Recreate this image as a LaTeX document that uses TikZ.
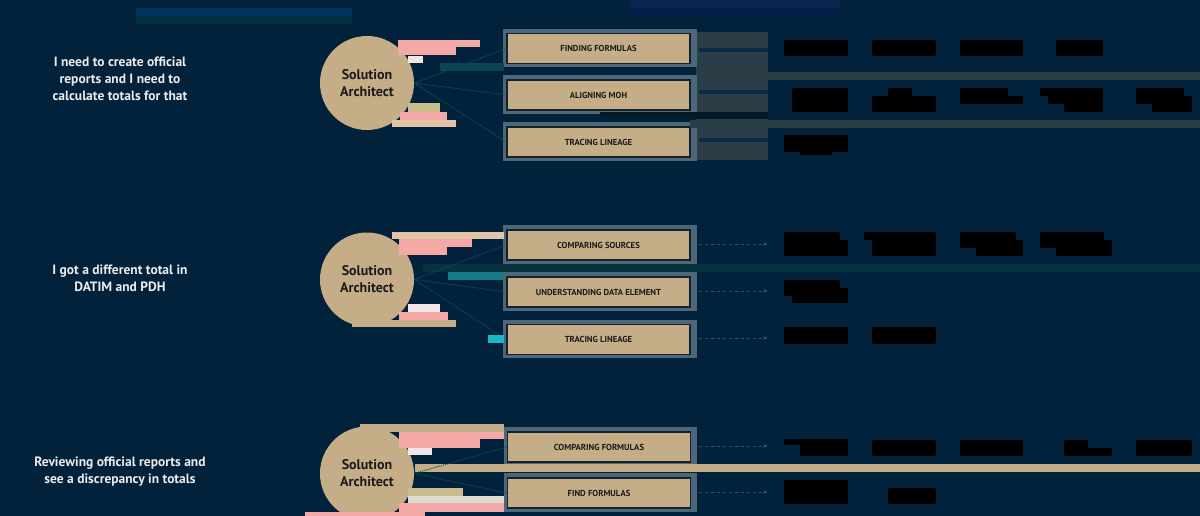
\documentclass[tikz,border=0pt]{standalone}
\usepackage{fontspec}
\setmainfont{PT Sans}
\usetikzlibrary{arrows.meta,calc}
\definecolor{bg}{HTML}{02213A}
\definecolor{tan}{HTML}{C4AD87}
\definecolor{ink}{HTML}{1A1A1A}
\definecolor{txtw}{HTML}{ECECEC}
\definecolor{boxline}{HTML}{15222C}
\definecolor{framec}{HTML}{4C667A}
\definecolor{panelc}{HTML}{2B3E47}
\definecolor{linkc}{HTML}{0F5262}
\definecolor{arrc}{HTML}{1E5B73}
\definecolor{arrdark}{HTML}{0A2A46}
\definecolor{pinkc}{HTML}{F4A9A6}
\definecolor{peachc}{HTML}{E2C5A8}
\definecolor{whitec}{HTML}{F1E6E6}
\definecolor{khakic}{HTML}{C9BC8E}
\definecolor{greyc}{HTML}{DCDCD0}
\definecolor{tealband}{HTML}{07333F}
\definecolor{tealbright}{HTML}{197A88}
\definecolor{cyanc}{HTML}{18B8C8}
\definecolor{tealblock}{HTML}{0C4452}
\definecolor{hdrblue}{HTML}{00315F}
\definecolor{hdrteal}{HTML}{022F3F}
\definecolor{hdrblueb}{HTML}{0A2452}
\definecolor{hdrbluec}{HTML}{04204A}
\definecolor{darkband}{HTML}{041A29}
\pgfdeclarelayer{back}
\pgfdeclarelayer{mid}
\pgfsetlayers{back,mid,main}
\begin{document}
\begin{tikzpicture}[x=1pt,y=-1pt,
  lefttext/.style={text=txtw, align=center, inner sep=0pt, font=\fontsize{13.5}{17}\selectfont\bfseries},
  sa/.style={circle, fill=tan, minimum size=94pt, inner sep=0pt, align=center, text=ink, font=\fontsize{14}{17}\selectfont\bfseries},
  task/.style={rectangle, fill=tan, draw=boxline, line width=1.5pt, minimum width=183pt, minimum height=30pt, inner sep=0pt, text=ink, font=\fontsize{8.7}{10}\selectfont\bfseries},
  link/.style={draw=linkc, line width=1pt, densely dotted},
  outdark/.style={draw=arrdark, line width=4pt},
  outthin/.style={draw=arrc, line width=1pt, dashed, -{Stealth[length=5pt,width=4pt]}},
  item/.style={fill=black},
]
\useasboundingbox (0,0) rectangle (1200,516);
\begin{pgfonlayer}{back}
\fill[bg] (0,0) rectangle (1200,516);
\end{pgfonlayer}

% header bars
\fill[hdrblue] (136,8) rectangle (352,16);
\fill[hdrteal] (136,16) rectangle (352,24);
\fill[hdrblueb] (630,0) rectangle (840,8);
\fill[hdrbluec] (630,8) rectangle (840,15);

% left texts
\node[lefttext] (q1) at (120,79) {I need to create official\\reports and I need to\\calculate totals for that};
\node[lefttext] (q2) at (120,278.5) {I got a different total in\\DATIM and PDH};
\node[lefttext] (q3) at (120,472) {Reviewing official reports and\\see a discrepancy in totals};

% solution architects
\node[sa] (sa1) at (367,83) {Solution\\Architect};
\node[sa] (sa2) at (367,279.5) {Solution\\Architect};
\node[sa] (sa3) at (367,473.5) {Solution\\Architect};

% tasks
\node[task] (t11) at (598.5,48.5) {FINDING FORMULAS};
\node[task] (t12) at (598.5,95) {ALIGNING MOH};
\node[task] (t13) at (598.5,142) {TRACING LINEAGE};
\node[task] (t21) at (598.5,245) {COMPARING SOURCES};
\node[task] (t22) at (598.5,292) {UNDERSTANDING DATA ELEMENT};
\node[task] (t23) at (598.5,339.5) {TRACING LINEAGE};
\node[task] (t31) at (599,447) {COMPARING FORMULAS};
\node[task] (t32) at (599,493) {FIND FORMULAS};

% frames behind tasks and grey panel
\begin{pgfonlayer}{mid}
\fill[panelc] (696,32) rectangle (768,160);
\foreach \t in {t11,t12,t13,t21,t22,t23,t31,t32}{
  \fill[framec] ($(\t.north west)+(-3,-4)$) rectangle ($(\t.south east)+(6,3)$);
}
\fill[darkband] (600,112) rectangle (768,119);
\end{pgfonlayer}

% bands
\fill[panelc] (768,72) rectangle (1200,80);
\fill[panelc] (690,120) rectangle (1200,128);
\fill[tealband] (423,264) rectangle (1200,272);
\fill[tan] (415,464) rectangle (1200,472);

% connectors circle -> tasks
\foreach \s/\t in {sa1/t11,sa1/t12,sa1/t13,sa2/t21,sa2/t22,sa2/t23,sa3/t31,sa3/t32}{
  \draw[link] (\s.east) -- (\t.west);
}

% end coordinates of outgoing arrows
\coordinate (e11) at (768,50);
\coordinate (e12) at (768,92);
\coordinate (e13) at (768,140);
\coordinate (e21) at (768,244);
\coordinate (e22) at (768,291);
\coordinate (e23) at (768,338);
\coordinate (e31) at (768,446);
\coordinate (e32) at (768,492);
\draw[outdark] ([xshift=8pt]t11.east |- e11) -- (e11);
\draw[outdark] ([xshift=8pt]t12.east |- e12) -- (e12);
\draw[outdark] ([xshift=8pt]t13.east |- e13) -- (e13);
\foreach \t/\e in {t21/e21,t22/e22,t23/e23,t31/e31,t32/e32}{
  \draw[outthin] ([xshift=8pt]\t.east |- \e) -- (\e);
}

% items (group 1)
\fill[item] (784,40) rectangle (848,56);
\fill[item] (872,40) rectangle (936,56);
\fill[item] (960,40) rectangle (1023,56);
\fill[item] (1056,40) rectangle (1103,56);
\fill[item] (792,88) rectangle (848,112);
\fill[item] (888,88) rectangle (912,96);
\fill[item] (872,96) rectangle (936,112);
\fill[item] (960,88) rectangle (1008,96);
\fill[item] (960,96) rectangle (1023,104);
\fill[item] (1040,88) rectangle (1103,96);
\fill[item] (1048,96) rectangle (1103,104);
\fill[item] (1064,104) rectangle (1103,112);
\fill[item] (1136,88) rectangle (1184,96);
\fill[item] (1136,96) rectangle (1192,104);
\fill[item] (1152,104) rectangle (1192,112);
\fill[item] (784,135) rectangle (848,152);
\fill[item] (800,152) rectangle (832,155);
% items (group 2)
\fill[item] (784,232) rectangle (840,240);
\fill[item] (784,240) rectangle (848,256);
\fill[item] (864,232) rectangle (936,240);
\fill[item] (872,240) rectangle (936,256);
\fill[item] (960,232) rectangle (1016,240);
\fill[item] (960,240) rectangle (1023,248);
\fill[item] (976,248) rectangle (1023,256);
\fill[item] (1040,232) rectangle (1104,240);
\fill[item] (1040,240) rectangle (1112,248);
\fill[item] (1056,248) rectangle (1112,256);
\fill[item] (784,280) rectangle (840,288);
\fill[item] (784,288) rectangle (848,296);
\fill[item] (792,296) rectangle (848,303);
\fill[item] (784,327) rectangle (848,344);
\fill[item] (872,327) rectangle (936,344);
% items (group 3)
\fill[item] (784,439) rectangle (848,445);
\fill[item] (800,445) rectangle (848,456);
\fill[item] (872,440) rectangle (936,456);
\fill[item] (960,440) rectangle (1023,456);
\fill[item] (1064,440) rectangle (1088,456);
\fill[item] (1088,448) rectangle (1112,456);
\fill[item] (1136,440) rectangle (1192,456);
\fill[item] (784,480) rectangle (848,504);
\fill[item] (888,488) rectangle (936,504);

% colour blocks beside the circles (group 1)
\fill[pinkc] (398,40) rectangle (480,47);
\fill[pinkc] (398,47) rectangle (456,55);
\fill[whitec] (408,56) rectangle (423,63);
\fill[tealblock] (440,63) rectangle (504,71);
\fill[khakic] (408,103) rectangle (440,112);
\fill[pinkc] (400,112) rectangle (447,120);
\fill[peachc] (392,120) rectangle (456,127);
% group 2
\fill[peachc] (392,232) rectangle (504,239);
\fill[pinkc] (399,239) rectangle (472,247);
\fill[pinkc] (399,247) rectangle (447,255);
\fill[tealbright] (448,272) rectangle (504,280);
\fill[whitec] (408,304) rectangle (440,312);
\fill[pinkc] (399,312) rectangle (448,320);
\fill[tan] (352,320) rectangle (456,327);
\fill[cyanc] (488,335) rectangle (504,343);
% group 3
\fill[tan] (360,424) rectangle (504,432);
\fill[pinkc] (399,432) rectangle (504,439);
\fill[pinkc] (399,439) rectangle (480,448);
\fill[whitec] (408,448) rectangle (432,455);
\fill[khakic] (408,488) rectangle (463,496);
\fill[greyc] (408,496) rectangle (504,503);
\fill[pinkc] (399,503) rectangle (504,512);
\fill[pinkc] (305,512) rectangle (425,516);
\end{tikzpicture}
\end{document}
